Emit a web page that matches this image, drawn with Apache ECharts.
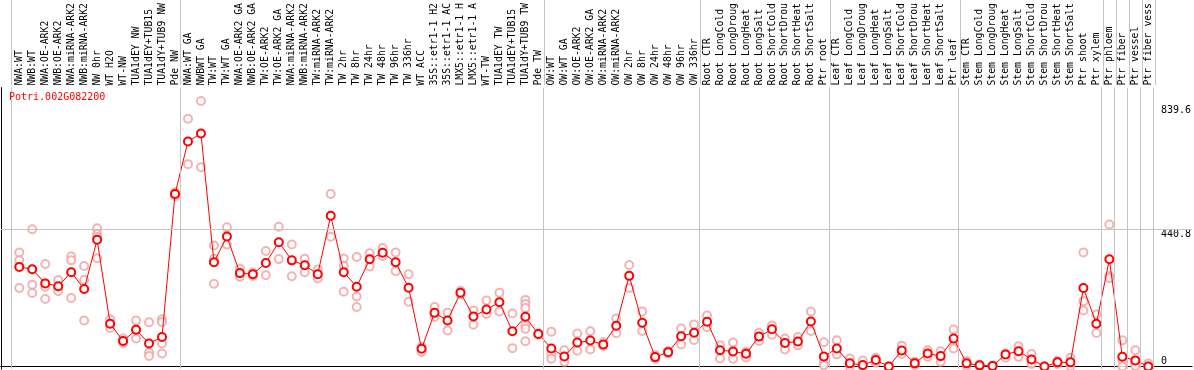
<!DOCTYPE html>
<html>
<head>
<meta charset="utf-8">
<script src="https://cdn.jsdelivr.net/npm/echarts@6/dist/echarts.min.js"></script>
<style>
  html, body { margin: 0; padding: 0; background: #fff; }
  #chart { width: 1194px; height: 370px; }
</style>
</head>
<body>
<div id="chart"></div>
<script>
// sample labels (cut to 14 chars like the source image)
var categories = [
    'NWA:WT', 'NWB:WT', 'NWA:OE-ARK2', 'NWB:OE-ARK2', 'NWA:miRNA-ARK2', 'NWB:miRNA-ARK2',
    'NW 0hr', 'WT H2O', 'WT-NW', 'TUA1dEY NW', 'TUA1dEY+TUB15', 'TUA1dY+TUB9 NW', 'Pde NW',
    'NWA:WT GA', 'NWBWT GA', 'TW:WT', 'TW:WT GA', 'NWA:OE-ARK2 GA', 'NWB:OE-ARK2 GA',
    'TW:OE-ARK2', 'TW:OE-ARK2 GA', 'NWA:miRNA-ARK2', 'NWB:miRNA-ARK2', 'TW:miRNA-ARK2', 'TW:miRNA-ARK2',
    'TW 2hr', 'TW 8hr', 'TW 24hr', 'TW 48hr', 'TW 96hr', 'TW 336hr', 'WT ACC',
    '35S::etr1-1 H2', '35S::etr1-1 AC', 'LMX5::etr1-1 H', 'LMX5::etr1-1 A', 'WT-TW',
    'TUA1dEY TW', 'TUA1dEY+TUB15', 'TUA1dY+TUB9 TW', 'Pde TW',
    'OW:WT', 'OW:WT GA', 'OW:OE-ARK2', 'OW:OE-ARK2 GA', 'OW:miRNA-ARK2', 'OW:miRNA-ARK2',
    'OW 2hr', 'OW 8hr', 'OW 24hr', 'OW 48hr', 'OW 96hr', 'OW 336hr',
    'Root CTR', 'Root LongCold', 'Root LongDroug', 'Root LongHeat', 'Root LongSalt',
    'Root ShortCold', 'Root ShortDrou', 'Root ShortHeat', 'Root ShortSalt', 'Ptr root',
    'Leaf CTR', 'Leaf LongCold', 'Leaf LongDroug', 'Leaf LongHeat', 'Leaf LongSalt',
    'Leaf ShortCold', 'Leaf ShortDrou', 'Leaf ShortHeat', 'Leaf ShortSalt', 'Ptr leaf',
    'Stem CTR', 'Stem LongCold', 'Stem LongDroug', 'Stem LongHeat', 'Stem LongSalt',
    'Stem ShortCold', 'Stem ShortDrou', 'Stem ShortHeat', 'Stem ShortSalt', 'Ptr shoot',
    'Ptr xylem', 'Ptr phloem', 'Ptr fiber', 'Ptr vessel', 'Ptr fiber vess'
];

// mean expression per sample
var means = [
    320, 312.5, 267, 258, 303, 249, 407, 137.5, 82, 118, 74, 95, 554,
    723, 748.5, 335, 417.5, 300, 296.5, 332.6, 399.4, 341, 325.2, 296.5, 484.3,
    302.9, 256, 344.3, 365.5, 334.7, 253, 56.8, 172.4, 148, 237, 160.7, 183,
    206.3, 113, 159.7, 104.5,
    57.8, 32.4, 76.9, 83.3, 70.5, 131, 291.2, 140.6, 30.2, 46.1, 97, 108.7,
    143.8, 52.5, 48.3, 40.8, 96, 119.4, 75.9, 80.1, 144.8, 32.4,
    57.8, 10.1, 4.8, 20.7, 0, 51.5, 10.1, 41.9, 33.4, 89.6,
    10.1, 3.7, 1.5, 38.7, 49.3, 22.8, 0, 13.3, 13.3, 252, 137.5,
    344.3, 31.3, 19.6, 0
];

// individual replicates per sample
var replicates = [
    [366, 341, 252], [441, 263, 236], [329, 256, 217], [278, 254, 242], [353, 341, 220],
    [323, 278, 148], [444, 426, 416, 348], [152, 137, 124], [90, 82, 76], [148, 118, 90],
    [142, 45, 34], [152, 143, 74, 42], [560, 554, 548],
    [796, 650], [853, 640], [389, 346, 266], [447, 392], [315, 288], [302, 291],
    [371, 293], [449, 345], [392, 290], [346, 303], [312, 283], [554, 417],
    [347, 323, 240], [352, 225, 191], [364, 321], [381, 355], [366, 306], [296, 208],
    [63, 47], [191, 159], [173, 116], [243, 232], [180, 134], [212, 169],
    [237, 177], [170, 59], [214, 201, 188, 132, 121, 81], [107, 102],
    [112, 39, 25], [52, 15], [106, 51], [113, 55], [78, 66], [154, 107],
    [326, 252], [177, 114], [37, 25], [50, 42], [122, 71], [135, 85],
    [164, 126], [68, 26], [77, 25], [47, 29], [108, 82], [132, 102],
    [90, 55], [95, 68], [177, 114], [78, 14, 4],
    [84, 39], [26, 0], [19, 0], [28, 12], [0, 0], [67, 40], [15, 5], [52, 31], [49, 15], [119, 58],
    [18, 2], [6, 2], [3, 0], [42, 28], [65, 31], [40, 8], [0, 0], [18, 8], [28, 1],
    [366, 210, 180], [167, 108],
    [456, 291, 284], [84, 21, 0], [52, 5, 2], [10, 0]
];

// first sample index of each group (last = end)
var groupStarts = [0, 13, 41, 53, 63, 73, 84, 85, 86, 87, 88];
var yLabels = [440.8, 839.6];
var yZeroLabel = [0];
var refLine = 440.8;

var mono = "'DejaVu Sans Mono', monospace";
var xMin = -1.408, xMax = 90.36;

var dom = document.getElementById('chart');
var myChart = echarts.init(dom, null, { renderer: 'canvas' });

var meanData = means.map(function (v, i) { return [i, v]; });
var repData = [];
replicates.forEach(function (arr, i) {
    arr.forEach(function (v) { repData.push([i, v]); });
});
var sepLines = groupStarts.map(function (g) { return { xAxis: g - 0.62 }; });

var option = {
    animation: false,
    backgroundColor: '#ffffff',
    title: {
        text: 'Potri.002G082200',
        left: 9,
        top: 92,
        padding: 0,
        textStyle: { fontFamily: mono, fontSize: 10, fontWeight: 'normal', color: '#ff0000' }
    },
    grid: [
        { left: 1, right: 0, top: 85, bottom: 1 },
        { left: 1, right: 0, top: 0, height: 85 }
    ],
    xAxis: [{
            type: 'value',
            gridIndex: 0,
            position: 'top',
            min: xMin,
            max: xMax,
            axisLine: { show: true, lineStyle: { color: '#000', width: 1 } },
            axisTick: { show: false },
            splitLine: { show: false },
            axisLabel: {
                customValues: categories.map(function (c, i) { return i; }),
                rotate: 90,
                margin: 2,
                fontFamily: mono,
                fontSize: 9.8,
                color: '#000',
                formatter: function (v) { return categories[Math.round(v)]; }
            }
        },
        {
            type: 'value',
            gridIndex: 0,
            position: 'bottom',
            min: xMin,
            max: xMax,
            axisLine: { show: true, lineStyle: { color: '#000', width: 1 } },
            axisTick: { show: false },
            axisLabel: { show: false },
            splitLine: { show: false }
        },
        {
            type: 'value',
            gridIndex: 1,
            min: xMin,
            max: xMax,
            show: false
        }
    ],
    yAxis: [{
            type: 'value',
            gridIndex: 0,
            position: 'right',
            min: -8,
            max: 896,
            axisLine: { show: false },
            axisTick: { show: false },
            splitLine: { show: false },
            axisLabel: {
                customValues: yLabels,
                inside: true,
                margin: 31,
                align: 'left',
                verticalAlign: 'top',
                fontFamily: mono,
                fontSize: 10,
                color: '#000',
                formatter: function (v) { return String(v); }
            }
        },
        {
            type: 'value',
            gridIndex: 0,
            position: 'right',
            min: -8,
            max: 896,
            axisLine: { show: false },
            axisTick: { show: false },
            splitLine: { show: false },
            axisLabel: {
                customValues: yZeroLabel,
                inside: true,
                margin: 31,
                align: 'left',
                verticalAlign: 'bottom',
                fontFamily: mono,
                fontSize: 10,
                color: '#000',
                formatter: function (v) { return String(v); }
            }
        },
        {
            type: 'value',
            gridIndex: 0,
            position: 'left',
            min: -8,
            max: 896,
            axisLine: { show: true, lineStyle: { color: '#000', width: 1 } },
            axisTick: { show: false },
            axisLabel: { show: false },
            splitLine: { show: false }
        },
        {
            type: 'value',
            gridIndex: 1,
            min: 0,
            max: 1,
            show: false
        }
    ],
    series: [{
            // group separators + reference line, plot area
            name: 'guides',
            type: 'line',
            xAxisIndex: 0,
            yAxisIndex: 0,
            data: [],
            z: 1,
            markLine: {
                silent: true,
                symbol: 'none',
                label: { show: false },
                lineStyle: { color: '#c4c4c4', type: 'solid', width: 1 },
                data: sepLines.concat([{ yAxis: refLine }])
            }
        },
        {
            // group separators through the label strip
            name: 'guidesTop',
            type: 'line',
            xAxisIndex: 2,
            yAxisIndex: 3,
            data: [],
            z: 1,
            markLine: {
                silent: true,
                symbol: 'none',
                label: { show: false },
                lineStyle: { color: '#c4c4c4', type: 'solid', width: 1 },
                data: sepLines
            }
        },
        {
            name: 'replicates',
            type: 'scatter',
            xAxisIndex: 0,
            yAxisIndex: 0,
            symbol: 'emptyCircle',
            symbolSize: 8,
            itemStyle: { color: '#f0a0a0', borderWidth: 1 },
            data: repData,
            z: 2
        },
        {
            name: 'mean',
            type: 'line',
            xAxisIndex: 0,
            yAxisIndex: 0,
            symbol: 'emptyCircle',
            symbolSize: 8,
            showAllSymbol: true,
            lineStyle: { color: '#ff0000', width: 1 },
            itemStyle: { color: '#ff0000', borderWidth: 1.2 },
            data: meanData,
            z: 3
        }
    ]
};

if (option && typeof option === 'object') {
    myChart.setOption(option);
}
</script>
</body>
</html>
